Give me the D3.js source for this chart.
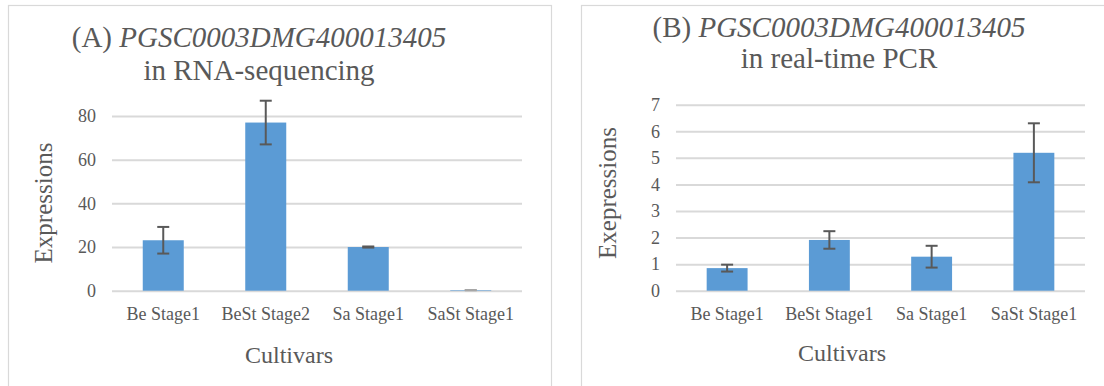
<!DOCTYPE html>
<html>
<head>
<meta charset="utf-8">
<script src="https://cdn.jsdelivr.net/npm/d3@7"></script>
<style>
  html, body { margin: 0; padding: 0; background: #fff; }
  svg { display: block; }
  text { font-family: "Liberation Serif", "Times New Roman", Tinos, Times, "DejaVu Serif", serif; fill: #595959; }
</style>
</head>
<body>
<svg id="chart" width="1104" height="386"></svg>
<script>
// (A) RNA-sequencing expression
const categoriesA = ["Be Stage1", "BeSt Stage2", "Sa Stage1", "SaSt Stage1"];
const valuesA = [23.1, 77.0, 20.0, 0.25];
const errorsA = [6.1, 10.0, 0.25, 0.05];
const ticksA = [0, 20, 40, 60, 80];

// (B) real-time PCR expression
const categoriesB = ["Be Stage1", "BeSt Stage1", "Sa Stage1", "SaSt Stage1"];
const valuesB = [0.85, 1.91, 1.28, 5.19];
const errorsB = [0.13, 0.33, 0.41, 1.11];
const ticksB = [0, 1, 2, 3, 4, 5, 6, 7];

const FONT = '"Liberation Serif", "Times New Roman", Tinos, Times, "DejaVu Serif", serif';
const svg = d3.select("#chart");

function panel(cfg) {
  const g = svg.append("g");

  // chart frame
  g.append("rect")
    .attr("x", cfg.frame[0]).attr("y", cfg.frame[1])
    .attr("width", cfg.frame[2]).attr("height", cfg.frame[3])
    .attr("fill", "#fff").attr("stroke", "#d9d9d9").attr("stroke-width", 1.2);

  const x = d3.scaleBand()
    .domain(cfg.categories)
    .range([cfg.plot.left, cfg.plot.right])
    .paddingInner(0.6).paddingOuter(0.3);

  const y = d3.scaleLinear()
    .domain([0, d3.max(cfg.ticks)])
    .range([cfg.plot.bottom, cfg.plot.top]);

  // horizontal gridlines + tick labels
  const yAxis = d3.axisLeft(y).tickValues(cfg.ticks)
    .tickSize(-(cfg.plot.right - cfg.plot.left)).tickPadding(16).tickFormat(d3.format("d"));
  const ya = g.append("g").attr("transform", `translate(${cfg.plot.left},0)`).call(yAxis);
  ya.select(".domain").remove();
  ya.attr("font-family", FONT);
  ya.selectAll(".tick line").attr("stroke", "#d9d9d9").attr("stroke-width", 2);
  ya.selectAll(".tick text").attr("font-size", 18).attr("fill", "#595959");

  // bars
  const data = cfg.categories.map((c, i) => ({ c, v: cfg.values[i], e: cfg.errors[i] }));
  g.selectAll("rect.bar").data(data).enter().append("rect")
    .attr("class", "bar")
    .attr("x", d => x(d.c))
    .attr("width", x.bandwidth())
    .attr("y", d => y(d.v))
    .attr("height", d => y(0) - y(d.v))
    .attr("fill", "#5b9bd5");

  // error bars
  const cap = 6;
  const eb = g.selectAll("g.err").data(data).enter().append("g").attr("class", "err")
    .attr("stroke", d => d.e < 0.1 ? "#a6a6a6" : "#595959").attr("stroke-width", 2);
  eb.append("line")
    .attr("x1", d => x(d.c) + x.bandwidth() / 2).attr("x2", d => x(d.c) + x.bandwidth() / 2)
    .attr("y1", d => y(d.v + d.e)).attr("y2", d => y(Math.max(0, d.v - d.e)));
  eb.append("line")
    .attr("x1", d => x(d.c) + x.bandwidth() / 2 - cap).attr("x2", d => x(d.c) + x.bandwidth() / 2 + cap)
    .attr("y1", d => y(d.v + d.e)).attr("y2", d => y(d.v + d.e));
  eb.append("line")
    .attr("x1", d => x(d.c) + x.bandwidth() / 2 - cap).attr("x2", d => x(d.c) + x.bandwidth() / 2 + cap)
    .attr("y1", d => y(Math.max(0, d.v - d.e))).attr("y2", d => y(Math.max(0, d.v - d.e)));

  // category labels
  const xAxis = d3.axisBottom(x).tickSize(0).tickPadding(0);
  const xa = g.append("g").attr("transform", `translate(0,${cfg.plot.bottom})`).call(xAxis);
  xa.select(".domain").remove();
  xa.attr("font-family", FONT);
  xa.selectAll(".tick text").attr("font-size", 18).attr("fill", "#595959")
    .attr("dy", null).attr("y", cfg.catBaseline - cfg.plot.bottom);

  // title (two lines, gene id in italics)
  const t1 = g.append("text").attr("x", cfg.titleX).attr("y", cfg.titleY[0])
    .attr("text-anchor", "middle").attr("font-size", 29);
  t1.append("tspan").text(cfg.titlePrefix + " ");
  t1.append("tspan").attr("font-style", "italic").text(cfg.gene);
  g.append("text").attr("x", cfg.titleX).attr("y", cfg.titleY[1])
    .attr("text-anchor", "middle").attr("font-size", 29).text(cfg.titleLine2);

  // axis titles
  g.append("text").attr("x", cfg.xTitle[0]).attr("y", cfg.xTitle[1])
    .attr("text-anchor", "middle").attr("font-size", 24).text("Cultivars");
  g.append("text")
    .attr("transform", `translate(${cfg.yTitle[0]},${cfg.yTitle[1]}) rotate(-90)`)
    .attr("text-anchor", "middle").attr("font-size", 25).text(cfg.yLabel);
}

panel({
  frame: [8.5, 5.5, 543, 400],
  plot: { left: 112, right: 522, top: 116, bottom: 290.7 },
  categories: categoriesA, values: valuesA, errors: errorsA, ticks: ticksA,
  catBaseline: 320.4,
  titleX: 259, titleY: [46.7, 80], titlePrefix: "(A)", gene: "PGSC0003DMG400013405",
  titleLine2: "in RNA-sequencing",
  xTitle: [289, 363], yTitle: [52, 203], yLabel: "Expressions"
});

panel({
  frame: [581.5, 5.5, 560, 400],
  plot: { left: 676, right: 1085, top: 104.7, bottom: 290.7 },
  categories: categoriesB, values: valuesB, errors: errorsB, ticks: ticksB,
  catBaseline: 320.4,
  titleX: 839, titleY: [36.7, 68.3], titlePrefix: "(B)", gene: "PGSC0003DMG400013405",
  titleLine2: "in real-time PCR",
  xTitle: [842, 361], yTitle: [616, 193], yLabel: "Exepressions"
});
</script>
</body>
</html>
